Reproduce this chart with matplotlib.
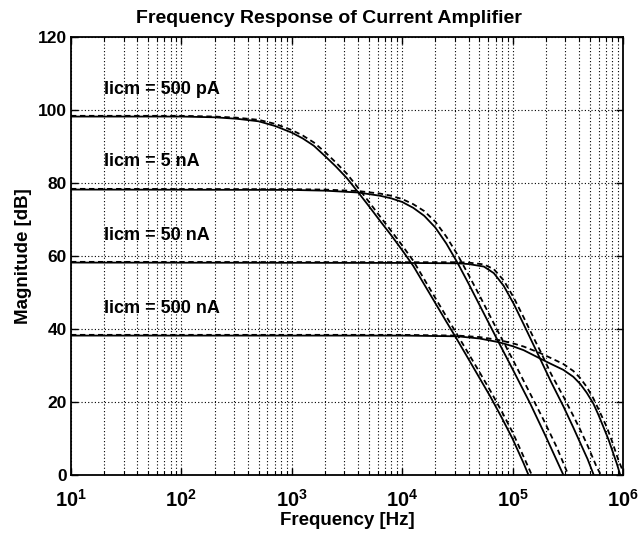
#!/usr/bin/env python3
"""
Frequency response of the current amplifier for four input bias currents
"""

import matplotlib
matplotlib.use('Agg')
import matplotlib.pyplot as plt
import matplotlib.ticker as mticker
import numpy as np

plt.rcParams['font.family'] = ['Liberation Sans', 'DejaVu Sans']
plt.rcParams['font.weight'] = 'bold'
plt.rcParams['mathtext.fontset'] = 'custom'
plt.rcParams['mathtext.rm'] = 'Liberation Sans:bold'
plt.rcParams['mathtext.it'] = 'Liberation Sans:bold'
plt.rcParams['mathtext.bf'] = 'Liberation Sans:bold'

# Curve labels (one per bias current)
labels = ['Iicm = 500 pA', 'Iicm = 5 nA', 'Iicm = 50 nA', 'Iicm = 500 nA']
label_y = [105.5, 86.0, 65.5, 45.5]

# frequencies are given as log10(Hz), magnitudes in dB
# 500 pA
lf1 = [1.0, 2.0, 2.3, 2.5, 2.7, 2.85, 3.0, 3.1, 3.2, 3.3, 3.4, 3.5, 3.6, 3.7, 3.8, 3.9, 4.0,
       4.1, 4.2, 4.3, 4.4, 4.48, 4.6, 4.7, 4.8, 4.9, 5.0, 5.1, 5.144]
m1 = [98.2, 98.2, 98.0, 97.6, 96.9, 95.6, 93.8, 92.2, 90.2, 87.4, 84.5, 81.3, 77.5, 73.6, 69.6,
      65.7, 61.6, 57.3, 52.2, 47.1, 42.0, 38.0, 31.8, 26.6, 21.4, 15.8, 9.9, 3.2, 0.0]
lf1d = [1.0, 2.0, 2.3, 2.5, 2.7, 2.85, 3.0, 3.1, 3.2, 3.3, 3.4, 3.5, 3.6, 3.7, 3.8, 3.9, 4.0,
        4.1, 4.2, 4.3, 4.4, 4.48, 4.6, 4.7, 4.8, 4.9, 5.0, 5.1, 5.174]
m1d = [98.4, 98.4, 98.2, 97.9, 97.3, 96.2, 94.5, 93.0, 91.1, 88.5, 85.6, 82.5, 78.7, 74.8, 70.8,
       66.9, 62.9, 58.7, 53.6, 48.5, 43.4, 39.4, 33.3, 28.2, 23.0, 17.5, 11.7, 5.0, 0.0]

# 5 nA
lf2 = [1.0, 3.0, 3.3, 3.6, 3.8, 3.9, 4.0, 4.1, 4.2, 4.3, 4.4, 4.5, 4.6, 4.7, 4.8, 4.873,
       5.0, 5.159, 5.3, 5.46]
m2 = [78.2, 78.1, 77.9, 77.4, 76.5, 75.8, 74.8, 73.2, 71.0, 67.8, 63.4, 58.2, 52.5, 46.6,
      40.7, 36.4, 29.0, 19.6, 10.6, 0.0]
lf2d = [1.0, 3.0, 3.3, 3.6, 3.8, 3.9, 4.0, 4.1, 4.2, 4.3, 4.4, 4.5, 4.6, 4.7, 4.8, 4.873,
        5.0, 5.159, 5.279, 5.4, 5.505]
m2d = [78.4, 78.3, 78.2, 77.8, 77.1, 76.5, 75.6, 74.2, 72.3, 69.4, 65.3, 60.4, 54.9, 49.2,
       43.3, 39.0, 31.7, 22.3, 15.2, 7.6, 0.0]

# 50 nA
lf3 = [1.0, 4.0, 4.5, 4.6, 4.74, 4.83, 4.92, 5.01, 5.1, 5.19, 5.25, 5.35, 5.46, 5.55, 5.611,
       5.68, 5.735]
m3 = [58.2, 58.1, 58.0, 57.8, 57.1, 55.3, 51.8, 46.9, 41.3, 35.6, 31.8, 25.4, 18.8, 13.0, 8.9,
      4.3, 0.0]
lf3d = [1.0, 4.0, 4.5, 4.6, 4.74, 4.83, 4.92, 5.01, 5.1, 5.19, 5.25, 5.35, 5.46, 5.55, 5.611,
        5.68, 5.76, 5.8]
m3d = [58.4, 58.3, 58.3, 58.2, 57.7, 56.4, 53.3, 48.6, 43.2, 37.6, 34.0, 27.6, 21.5, 16.2,
       12.5, 8.0, 2.3, 0.0]

# 500 nA
lf4 = [1.0, 4.0, 4.5, 4.7, 4.873, 5.0, 5.1, 5.25, 5.35, 5.46, 5.55, 5.611, 5.67, 5.731, 5.78,
       5.822, 5.87, 5.912, 5.945, 5.975]
m4 = [38.2, 38.2, 38.0, 37.4, 36.4, 35.3, 34.2, 31.9, 30.4, 28.8, 26.9, 25.0, 22.6, 19.6, 16.3,
      13.2, 9.6, 5.9, 3.0, 0.0]
lf4d = [1.0, 4.0, 4.5, 4.7, 4.873, 5.0, 5.1, 5.25, 5.35, 5.46, 5.55, 5.611, 5.67, 5.731, 5.78,
        5.852, 5.9, 5.958, 6.0]
m4d = [38.4, 38.4, 38.2, 37.8, 37.0, 36.1, 35.2, 33.4, 32.0, 30.4, 28.5, 26.6, 24.2, 21.0, 17.9,
       13.2, 9.3, 4.1, 1.0]

solid = [(lf1, m1), (lf2, m2), (lf3, m3), (lf4, m4)]
dashed = [(lf1d, m1d), (lf2d, m2d), (lf3d, m3d), (lf4d, m4d)]

fig = plt.figure(figsize=(6.39, 5.39), dpi=100)
ax = fig.add_axes([0.111, 0.1187, 0.864, 0.8127])

for lf, m in solid:
    ax.semilogx(10.0 ** np.array(lf), m, color='black', linewidth=1.3)
for lf, m in dashed:
    ax.semilogx(10.0 ** np.array(lf), m, color='black', linewidth=1.3, linestyle=(0, (3, 2)))

for lab, y in zip(labels, label_y):
    ax.text(20, y, lab, fontsize=13, fontweight='bold', va='center', ha='left')

ax.set_xlim(10, 1e6)
ax.set_ylim(0, 120)
ax.set_yticks(np.arange(0, 121, 20))
ax.xaxis.set_major_locator(mticker.LogLocator(base=10, numticks=10))
ax.xaxis.set_minor_locator(mticker.LogLocator(base=10, subs=np.arange(2, 10), numticks=20))
ax.xaxis.set_minor_formatter(mticker.NullFormatter())

ax.grid(True, which='major', color='black', linestyle=(0, (1, 2)), linewidth=0.8)
ax.grid(True, which='minor', axis='x', color='black', linestyle=(0, (1, 2)), linewidth=0.8)

ax.tick_params(which='both', direction='in', top=True, right=True)
ax.tick_params(axis='y', labelsize=12.5, pad=3)
ax.tick_params(axis='x', labelsize=14.5, pad=10)
ax.tick_params(which='major', length=5, width=1.0)
ax.tick_params(which='minor', length=3, width=0.8)
for sp in ax.spines.values():
    sp.set_linewidth(1.3)

ax.set_xlabel('Frequency [Hz]', fontsize=13.5, fontweight='bold', labelpad=1)
ax.set_ylabel('Magnitude [dB]', fontsize=13.5, fontweight='bold', labelpad=4)
ax.set_title('Frequency Response of Current Amplifier', fontsize=14, fontweight='bold',
             pad=10, x=0.467)

fig.savefig('out.png', dpi=100)
